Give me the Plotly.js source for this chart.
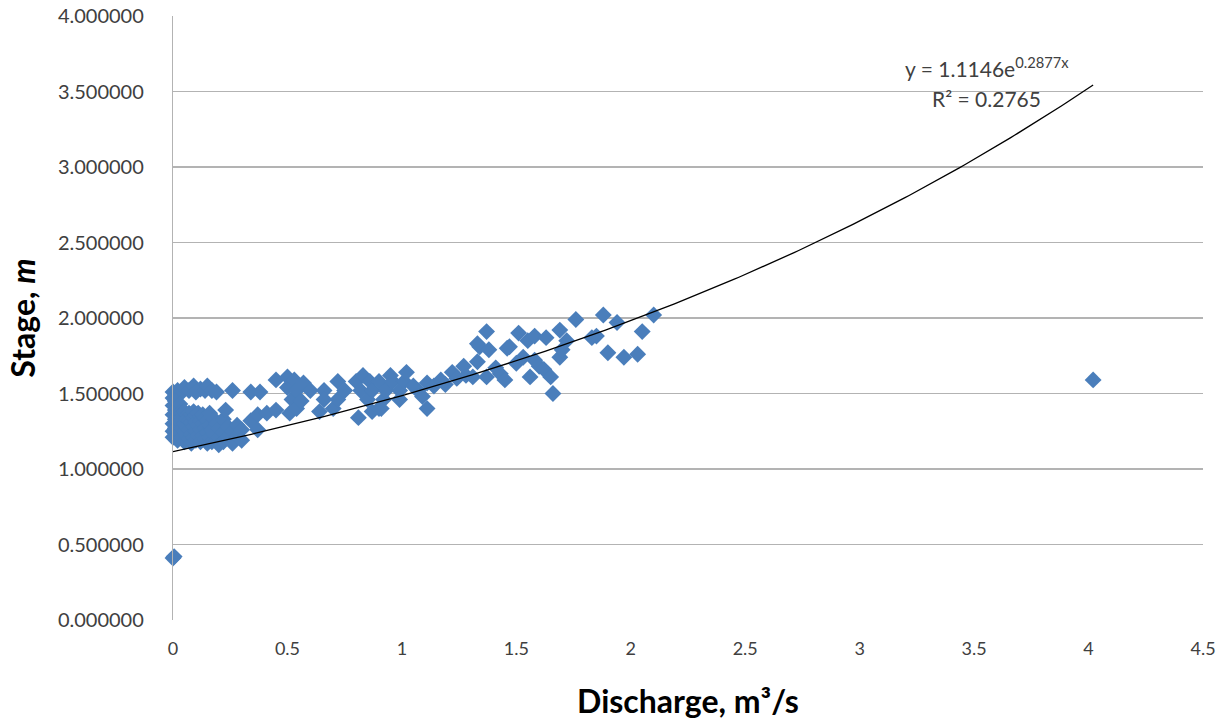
<!DOCTYPE html>
<html>
<head>
<meta charset="utf-8">
<script src="https://cdn.plot.ly/plotly-3.0.1.min.js"></script>
<style>html,body{margin:0;padding:0;background:#fff;}#chart{width:1220px;height:724px;}</style>
</head>
<body>
<div id="chart"></div>
<script>
const discharge = [
  0.00,0.005,
  0.00,0.00,0.02,0.04,0.05,0.07,0.09,0.10,0.12,0.14,0.15,0.17,0.19,0.26,0.34,0.38,
  0.00,0.00,0.00,0.00,0.00,
  0.01,0.01,0.01,0.01,0.01,
  0.02,0.02,0.02,0.02,
  0.03,0.03,0.03,0.03,
  0.04,0.04,0.04,0.04,
  0.05,0.05,0.05,0.05,
  0.06,0.06,0.06,0.06,
  0.07,0.07,0.07,0.07,
  0.08,0.08,0.08,0.08,
  0.09,0.09,0.09,0.09,
  0.10,0.10,0.10,0.10,
  0.11,0.11,0.11,
  0.12,0.12,0.12,0.12,
  0.13,0.13,0.13,
  0.14,0.14,0.14,
  0.15,0.15,0.15,
  0.16,0.16,0.16,
  0.17,0.17,
  0.18,0.18,
  0.19,0.19,
  0.20,0.20,0.20,
  0.22,0.22,0.22,
  0.23,
  0.24,0.24,
  0.26,0.26,
  0.28,0.28,
  0.30,0.30,
  0.34,0.37,0.37,0.41,0.45,0.45,0.50,0.50,0.51,0.52,0.53,0.54,0.54,0.56,0.57,0.60,0.64,0.66,0.66,0.70,
  0.72,0.72,0.75,0.80,0.81,0.82,0.83,0.85,0.86,0.87,0.87,0.90,0.90,0.91,0.92,0.93,0.95,0.96,0.99,0.99,
  1.01,1.02,1.07,
  1.05,1.09,1.11,1.11,1.14,1.17,1.19,1.22,1.24,1.27,1.28,1.31,1.33,1.33,1.34,1.37,1.37,1.38,1.41,1.43,
  1.45,1.46,1.47,1.50,1.51,1.53,1.55,1.56,1.58,1.58,1.60,1.62,1.63,1.65,1.66,1.69,1.69,1.70,1.72,1.76,
  1.83,1.85,1.88,1.90,1.94,1.97,2.03,2.05,2.10,
  4.02
];
const stage = [
  0.41,0.42,
  1.51,1.47,1.52,1.51,1.54,1.52,1.55,1.51,1.53,1.52,1.55,1.52,1.51,1.52,1.51,1.51,
  1.42,1.36,1.30,1.25,1.21,
  1.45,1.39,1.33,1.27,1.22,
  1.40,1.35,1.19,1.28,
  1.43,1.31,1.24,1.37,
  1.37,1.34,1.21,1.27,
  1.38,1.30,1.25,1.18,
  1.36,1.33,1.22,1.28,
  1.37,1.32,1.26,1.20,
  1.36,1.31,1.23,1.17,
  1.38,1.34,1.28,1.21,
  1.36,1.31,1.25,1.19,
  1.37,1.29,1.22,
  1.35,1.32,1.26,1.18,
  1.36,1.30,1.22,
  1.34,1.27,1.20,
  1.32,1.24,1.17,
  1.37,1.29,1.21,
  1.26,1.18,
  1.33,1.23,
  1.30,1.19,
  1.27,1.21,1.16,
  1.33,1.24,1.18,
  1.39,
  1.28,1.21,
  1.25,1.17,
  1.29,1.22,
  1.26,1.19,
  1.32,1.36,1.26,1.37,1.39,1.59,1.54,1.61,1.37,1.46,1.59,1.52,1.40,1.45,1.57,1.52,1.38,1.52,1.46,1.40,
  1.58,1.46,1.52,1.58,1.34,1.52,1.62,1.46,1.58,1.52,1.38,1.58,1.40,1.40,1.46,1.52,1.62,1.58,1.52,1.46,
  1.58,1.64,1.52,
  1.55,1.48,1.40,1.57,1.55,1.59,1.56,1.64,1.60,1.68,1.62,1.61,1.83,1.71,1.81,1.91,1.61,1.79,1.67,1.63,
  1.59,1.80,1.81,1.70,1.90,1.74,1.85,1.61,1.72,1.88,1.68,1.66,1.87,1.61,1.50,1.92,1.74,1.79,1.85,1.99,
  1.87,1.88,2.02,1.77,1.97,1.74,1.76,1.91,2.02,
  1.59
];
// Exponential trendline as printed on the chart
const fitA = 1.1146;
const fitB = 0.2877;
const fitR2 = 0.2765;
const fitXmax = Math.max(...discharge);
const trendX = [], trendY = [];
for (let i = 0; i <= 200; i++) {
  const x = fitXmax * i / 200;
  trendX.push(x);
  trendY.push(fitA * Math.exp(fitB * x));
}
const xTickVals = [0,0.5,1,1.5,2,2.5,3,3.5,4,4.5];
const xTickText = ['0','0.5','1','1.5','2','2.5','3','3.5','4','4.5'];
const yTickVals = [0,0.5,1,1.5,2,2.5,3,3.5,4];

const font = 'Lato, "Open Sans", "Liberation Sans", sans-serif';
const traces = [
  {
    x: discharge, y: stage, type: 'scatter', mode: 'markers', cliponaxis: false,
    marker: {symbol: 'diamond', size: 13, color: '#4a7ebb', line: {width: 0}},
    hoverinfo: 'x+y'
  },
  {
    x: trendX, y: trendY, type: 'scatter', mode: 'lines', cliponaxis: false,
    line: {color: '#000000', width: 1.3}, hoverinfo: 'skip'
  }
];
const layout = {
  width: 1220, height: 724,
  margin: {l: 173, r: 17, t: 16, b: 104},
  paper_bgcolor: '#ffffff', plot_bgcolor: '#ffffff',
  showlegend: false,
  font: {family: font, color: '#404040', size: 19},
  xaxis: {
    range: [0, 4.5], tickvals: xTickVals, ticktext: xTickText,
    showgrid: false, zeroline: false, showline: false,
    ticks: '', ticklabelstandoff: 16,
    tickfont: {size: 18, color: '#404040', family: font},
    title: {text: '<b>Discharge, m³/s</b>', font: {size: 32, color: '#000000', family: font}, standoff: 32},
    automargin: false
  },
  yaxis: {
    range: [0, 4], tickvals: yTickVals, tickformat: '.6f',
    showgrid: true, gridcolor: '#b3b3b3', gridwidth: 1.2,
    zeroline: false, showline: true, linecolor: '#b3b3b3', linewidth: 1.2,
    ticks: '', ticklabelstandoff: 24,
    tickfont: {size: 20, color: '#404040', family: font},
    title: {text: '<b>Stage, <i>m</i></b>', font: {size: 32, color: '#000000', family: font}, standoff: 12},
    automargin: false
  },
  annotations: [
    {xref: 'paper', yref: 'paper', x: 0.790, y: 0.916, xanchor: 'center', yanchor: 'middle', showarrow: false,
     text: 'y = ' + fitA.toFixed(4) + 'e<sup>' + fitB.toFixed(4) + 'x</sup>', font: {size: 21, color: '#404040', family: font}},
    {xref: 'paper', yref: 'paper', x: 0.790, y: 0.8626, xanchor: 'center', yanchor: 'middle', showarrow: false,
     text: 'R² = ' + fitR2.toFixed(4), font: {size: 21, color: '#404040', family: font}}
  ]
};
Plotly.newPlot('chart', traces, layout, {displayModeBar: false, staticPlot: true});
</script>
</body>
</html>
